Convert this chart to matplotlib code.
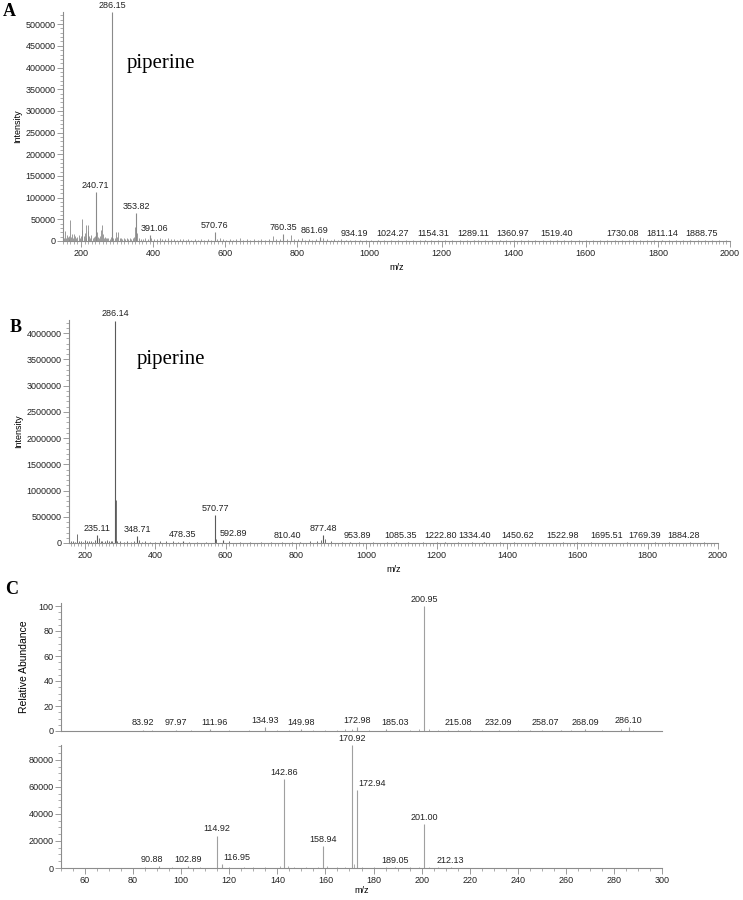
import matplotlib
matplotlib.use("Agg")
import matplotlib.pyplot as plt
from matplotlib.ticker import MultipleLocator

plt.rcParams['font.family'] = ['Liberation Sans', 'DejaVu Sans']

# ---- panel A: full scan, labelled peaks ----
a_peak_mz = [240.71, 286.15, 353.82, 391.06, 570.76, 760.35, 861.69, 934.19, 1024.27,
             1154.31, 1289.11, 1360.97, 1519.40, 1730.08, 1811.14, 1888.75]
a_peak_int = [113000, 528000, 65000, 14000, 20000, 15000, 10000, 2500, 2500,
              2500, 2500, 2500, 2000, 2000, 2000, 2000]
# unlabelled peaks / baseline
a_noise_mz = [152, 155, 158, 160, 163, 166, 168, 170, 173, 176, 178, 181, 184, 187, 190, 193,
              196, 199, 202, 204, 207, 210, 213, 215, 218, 220, 223, 226, 229, 232, 235, 238,
              243, 246, 249, 252, 255, 258, 261, 264, 267, 270, 273, 276, 279, 282, 287.2, 290,
              294, 297, 300, 303, 307, 311, 315, 319, 323, 327, 331, 335, 339, 343, 347, 350,
              356, 360, 365, 372, 378, 385, 395, 402, 410, 418, 425, 433, 441, 450, 458, 466,
              474, 482, 490, 498, 506, 515, 524, 533, 542, 551, 560, 578, 586, 594, 603, 612,
              621, 630, 640, 650, 660, 670, 680, 690, 700, 710, 722, 732, 742, 752, 770, 782,
              792, 802, 812, 822, 832, 842, 852, 872, 882, 892, 902, 912, 922, 945, 960, 975,
              990, 1005, 1040, 1060, 1080, 1100, 1120, 1140, 1170, 1190, 1210, 1230, 1250, 1270,
              1300, 1320, 1340, 1380, 1400, 1420, 1440, 1460, 1480, 1500, 1540, 1560, 1580, 1600,
              1620, 1640, 1660, 1680, 1700, 1720, 1750, 1770, 1790, 1830, 1850, 1870, 1910, 1930,
              1950, 1970, 1990]
a_noise_int = [8000, 22000, 6000, 14000, 9000, 12000, 5000, 48000, 9000, 16000, 7000, 17000,
               11000, 6000, 9000, 13000, 8000, 11000, 25000, 50000, 12000, 18000, 8000, 36000,
               22000, 36000, 12000, 8000, 14000, 6000, 9000, 12000, 20000, 10000, 7000, 11000,
               25000, 37000, 15000, 8000, 10000, 6000, 8000, 7000, 5000, 9000, 106000, 6000,
               8000, 20000, 10000, 20000, 6000, 8000, 5000, 7000, 4000, 6000, 5000, 7000, 4000,
               6000, 9000, 32000, 18000, 6000, 5000, 4000, 6000, 5000, 6000, 5000, 4000, 6000,
               4000, 5000, 7000, 4000, 5000, 3000, 5000, 4000, 3000, 5000, 3000, 4000, 3000,
               5000, 3000, 4000, 3000, 5000, 8000, 4000, 3000, 4000, 3000, 5000, 6000, 3000,
               4000, 3000, 4000, 3000, 4000, 3000, 5000, 11000, 5000, 4000, 5000, 14000, 5000,
               4000, 6000, 3000, 4000, 3000, 5000, 8000, 5000, 3000, 4000, 3000, 4000, 3000,
               2000, 3000, 2000, 3000, 2000, 3000, 2000, 3000, 2000, 3000, 2000, 3000, 2000,
               3000, 2000, 3000, 2000, 3000, 2000, 3000, 2000, 3000, 2000, 3000, 2000, 3000,
               2000, 3000, 2000, 3000, 2000, 3000, 2000, 3000, 2000, 3000, 2000, 3000, 2000,
               3000, 2000, 3000, 2000, 3000, 2000, 3000, 2000]

# ---- panel B ----
b_peak_mz = [235.11, 286.14, 348.71, 478.35, 570.77, 592.89, 810.40, 877.48, 953.89, 1085.35,
             1222.80, 1334.40, 1450.62, 1522.98, 1695.51, 1769.39, 1884.28]
b_peak_int = [160000, 4240000, 130000, 30000, 540000, 60000, 20000, 160000, 15000, 12000,
              10000, 10000, 8000, 8000, 8000, 8000, 8000]
b_noise_mz = [160, 166, 172, 178, 184, 190, 196, 200, 206, 212, 218, 224, 228, 240, 245, 250,
              256, 262, 268, 274, 278, 287.2, 292, 300, 310, 320, 330, 340, 355, 362, 370, 385,
              400, 415, 430, 450, 465, 495, 520, 545, 572, 610, 640, 670, 700, 730, 760, 790,
              840, 860, 870, 884, 900, 930, 980, 1020, 1060, 1120, 1160, 1200, 1260, 1300, 1380,
              1420, 1480, 1560, 1600, 1640, 1740, 1820, 1860, 1920, 1960]
b_noise_int = [30000, 40000, 20000, 170000, 30000, 40000, 20000, 50000, 30000, 40000, 30000,
               20000, 60000, 90000, 40000, 40000, 30000, 60000, 30000, 40000, 40000, 820000,
               30000, 30000, 20000, 30000, 20000, 40000, 60000, 20000, 30000, 20000, 20000,
               30000, 30000, 30000, 20000, 20000, 20000, 20000, 80000, 30000, 20000, 20000,
               20000, 20000, 20000, 20000, 30000, 40000, 60000, 80000, 30000, 20000, 15000,
               15000, 15000, 15000, 10000, 10000, 10000, 10000, 10000, 10000, 10000, 10000,
               10000, 10000, 10000, 10000, 10000, 10000, 10000]

# ---- panel C, upper: MS2 relative abundance ----
c1_peak_mz = [83.92, 97.97, 111.96, 134.93, 149.98, 172.98, 185.03, 200.95, 215.08, 232.09,
              258.07, 268.09, 286.10]
c1_peak_int = [1.2, 1.2, 1.5, 3.0, 1.5, 3.0, 1.5, 100, 1.2, 1.2, 1.2, 1.5, 3.0]
c1_noise_mz = [88, 104, 120, 128, 140, 145, 155, 160, 165, 168, 170.9, 178, 195, 199, 203,
               207, 211, 220, 225, 240, 245, 250, 262, 275, 283, 288]
c1_noise_int = [0.6, 0.6, 0.5, 1.0, 1.0, 0.8, 1.0, 0.8, 1.0, 1.5, 2.0, 1.0, 1.0, 2.0, 2.0,
                1.0, 1.0, 0.8, 0.8, 0.8, 0.8, 0.8, 0.8, 0.8, 1.5, 0.8]

# ---- panel C, lower: MS2 intensity ----
c2_peak_mz = [90.88, 102.89, 114.92, 116.95, 142.86, 158.94, 170.92, 172.94, 189.05, 201.00,
              212.13]
c2_peak_int = [1200, 1500, 24000, 3000, 65500, 16000, 91000, 58000, 1000, 32500, 800]
c2_noise_mz = [65, 75, 85, 96, 108, 120, 126, 130, 135, 141, 144.5, 147, 152, 157, 160.5,
               165, 168, 171.8, 175, 180, 185, 195, 199, 203, 207, 220, 230, 245, 260, 275, 290]
c2_noise_int = [300, 300, 400, 500, 600, 600, 800, 1000, 600, 1500, 1500, 600, 500, 800,
                1500, 600, 800, 3000, 800, 600, 500, 500, 800, 600, 400, 300, 300, 300, 300,
                300, 300]

W, H = 743, 900
FS = 6.5
fig = plt.figure(figsize=(W / 100, H / 100), dpi=100)


def rect(left, top, right, bottom):
    return [left / W, 1 - bottom / H, (right - left) / W, (bottom - top) / H]


def style_axis(ax):
    for s in ['top', 'right']:
        ax.spines[s].set_visible(False)
    for s in ['left', 'bottom']:
        ax.spines[s].set_color('#8c8c8c')
        ax.spines[s].set_linewidth(0.8)
    ax.tick_params(which='major', length=4, width=0.6, color='#8c8c8c',
                   labelsize=FS, labelcolor='#222222', pad=1.5)
    ax.tick_params(which='minor', length=2, width=0.5, color='#8c8c8c')


def draw_peaks(ax, mz, inten, color, lw=0.7):
    ax.vlines(mz, 0, inten, colors=color, linewidth=lw, clip_on=False)


def label_peaks(ax, mz, inten, nudge=None):
    # nudge: sideways shift (points) where the labels are set apart
    nudge = nudge or {}
    for m, v in zip(mz, inten):
        ax.annotate(f"{m:.2f}", (m, v), xytext=(nudge.get(m, 0), 1.5),
                    textcoords='offset points', ha='center', va='bottom',
                    fontsize=FS, color='#222222', annotation_clip=False)


# A
axA = fig.add_axes(rect(63, 12, 730, 241))
draw_peaks(axA, a_noise_mz, a_noise_int, '#8a8a8a', 0.6)
draw_peaks(axA, a_peak_mz, a_peak_int, '#8a8a8a', 0.8)
label_peaks(axA, a_peak_mz, a_peak_int,
            nudge={391.06: 3, 861.69: -3.6, 934.19: 6.5, 1024.27: 10, 1154.31: 5.8,
                   1360.97: 9.4, 1730.08: -7.2, 1888.75: 8.6})
axA.set_xlim(150, 2000)
axA.set_ylim(0, 528000)
axA.xaxis.set_major_locator(MultipleLocator(200))
axA.xaxis.set_minor_locator(MultipleLocator(10))
axA.yaxis.set_major_locator(MultipleLocator(50000))
axA.yaxis.set_minor_locator(MultipleLocator(10000))
axA.ticklabel_format(style='plain', axis='y')
style_axis(axA)
axA.set_xlabel('m/z', fontsize=FS, labelpad=4)
axA.set_ylabel('Intensity', fontsize=FS, labelpad=2)
axA.text(0.096, 0.777, 'piperine', transform=axA.transAxes, family='Liberation Serif',
         fontsize=15, va='center', ha='left')
fig.text(3 / W, 1 - 12 / H, 'A', family='Liberation Serif', fontweight='bold',
         fontsize=13, va='center', ha='left')

# B
axB = fig.add_axes(rect(69, 320, 718, 543))
draw_peaks(axB, b_noise_mz, b_noise_int, '#5a5a5a', 0.6)
draw_peaks(axB, b_peak_mz, b_peak_int, '#5a5a5a', 0.8)
label_peaks(axB, b_peak_mz, b_peak_int,
            nudge={592.89: 7.2, 810.40: -8.6, 953.89: 5, 1085.35: 3, 1222.80: -3,
                   1334.40: -6.5, 1450.62: -5, 1522.98: 8.6, 1695.51: -3,
                   1769.39: 5.8, 1884.28: 4.3})
axB.set_xlim(155, 2000)
axB.set_ylim(0, 4250000)
axB.xaxis.set_major_locator(MultipleLocator(200))
axB.xaxis.set_minor_locator(MultipleLocator(10))
axB.yaxis.set_major_locator(MultipleLocator(500000))
axB.yaxis.set_minor_locator(MultipleLocator(100000))
axB.ticklabel_format(style='plain', axis='y')
style_axis(axB)
axB.set_xlabel('m/z', fontsize=FS, labelpad=4)
axB.set_ylabel('Intensity', fontsize=FS, labelpad=2)
axB.text(0.105, 0.823, 'piperine', transform=axB.transAxes, family='Liberation Serif',
         fontsize=15, va='center', ha='left')
fig.text(10 / W, 1 - 327 / H, 'B', family='Liberation Serif', fontweight='bold',
         fontsize=13, va='center', ha='left')

# C upper
axC1 = fig.add_axes(rect(61, 603, 662, 731))
draw_peaks(axC1, c1_noise_mz, c1_noise_int, '#a0a0a0', 0.6)
draw_peaks(axC1, c1_peak_mz, c1_peak_int, '#a0a0a0', 0.8)
label_peaks(axC1, c1_peak_mz, c1_peak_int,
            nudge={111.96: 3, 185.03: 6.5, 258.07: -11.5})
axC1.set_xlim(50, 300)
axC1.set_ylim(0, 102.4)
axC1.set_xticks([])
axC1.yaxis.set_major_locator(MultipleLocator(20))
axC1.yaxis.set_minor_locator(MultipleLocator(5))
style_axis(axC1)
axC1.set_ylabel('Relative Abundance', fontsize=7.5, labelpad=7)
fig.text(5 / W, 1 - 590 / H, 'C', family='Liberation Serif', fontweight='bold',
         fontsize=13, va='center', ha='left')

# C lower
axC2 = fig.add_axes(rect(61, 745, 662, 868))
draw_peaks(axC2, c2_noise_mz, c2_noise_int, '#a0a0a0', 0.6)
draw_peaks(axC2, c2_peak_mz, c2_peak_int, '#a0a0a0', 0.8)
label_peaks(axC2, c2_peak_mz, c2_peak_int,
            nudge={90.88: -5, 116.95: 11, 172.94: 11.5})
axC2.set_xlim(50, 300)
axC2.set_ylim(0, 91000)
axC2.set_xticks(range(60, 301, 20))
axC2.xaxis.set_minor_locator(MultipleLocator(5))
axC2.yaxis.set_major_locator(MultipleLocator(20000))
axC2.yaxis.set_minor_locator(MultipleLocator(5000))
style_axis(axC2)
axC2.set_xlabel('m/z', fontsize=FS, labelpad=1)

fig.savefig('out.png', dpi=100)
